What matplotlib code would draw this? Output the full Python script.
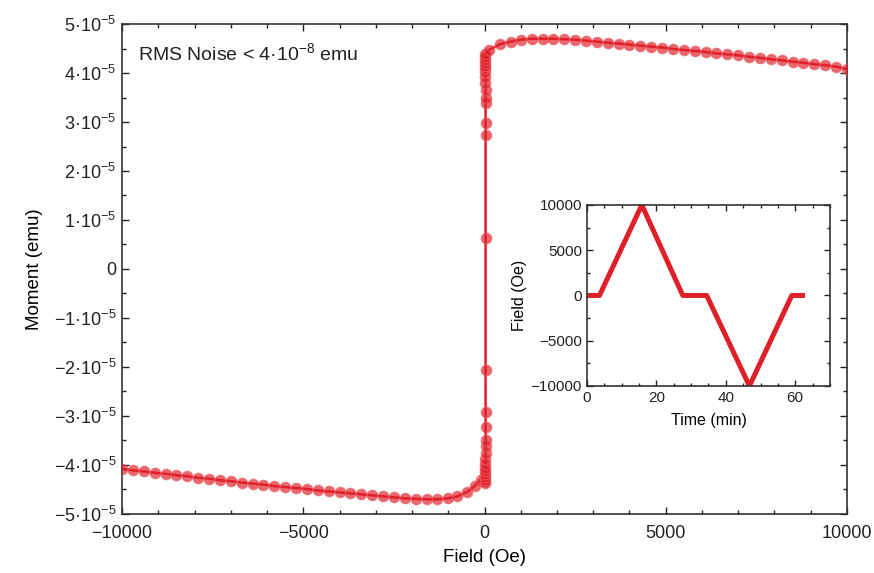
import matplotlib
matplotlib.use("Agg")
import matplotlib.pyplot as plt
from matplotlib.ticker import MultipleLocator, FixedLocator, FixedFormatter

plt.rcParams['font.family'] = ['Liberation Sans', 'DejaVu Sans']
plt.rcParams['mathtext.fontset'] = 'custom'
plt.rcParams['mathtext.rm'] = 'Liberation Sans'
plt.rcParams['mathtext.it'] = 'Liberation Sans:italic'

# ---- main data: field (Oe) and moment (1e-5 emu), in sweep order ----
field_neg = [-10000, -9700, -9400, -9100, -8800, -8500, -8200, -7900, -7600, -7300,
             -7000, -6700, -6400, -6100, -5800, -5500, -5200, -4900, -4600, -4300,
             -4000, -3700, -3400, -3100, -2800, -2500, -2200, -1900, -1600, -1300,
             -1000, -750, -480, -250, -110]
moment_neg = [-4.08, -4.11, -4.13, -4.16, -4.18, -4.21, -4.23, -4.26, -4.28, -4.31,
              -4.33, -4.36, -4.38, -4.40, -4.43, -4.45, -4.47, -4.49, -4.52, -4.54,
              -4.56, -4.58, -4.60, -4.62, -4.64, -4.66, -4.68, -4.69, -4.70, -4.70,
              -4.68, -4.64, -4.55, -4.42, -4.30]

field_sw = [12, 15, 18, 20, 22, 24, 25, 26, 27, 28, 29, 30,
            30, 30, 30, 30, 30, 30,
            30, 29, 28, 27, 26, 25, 24, 22, 20, 18, 16, 14]
moment_sw = [-4.37, -4.34, -4.30, -4.25, -4.19, -4.13, -4.06, -3.98, -3.88, -3.75, -3.62, -3.49,
             -3.22, -2.91, -2.06, 0.63, 2.73, 2.98,
             3.39, 3.50, 3.65, 3.80, 3.92, 4.02, 4.10, 4.15, 4.20, 4.26, 4.32, 4.38]

field_pos = [120, 440, 720, 1000, 1300, 1600, 1900, 2200, 2500, 2800, 3100, 3400,
             3700, 4000, 4300, 4600, 4900, 5200, 5500, 5800, 6100, 6400, 6700,
             7000, 7300, 7600, 7900, 8200, 8500, 8800, 9100, 9400, 9700, 10000]
moment_pos = [4.47, 4.59, 4.64, 4.68, 4.70, 4.70, 4.70, 4.69, 4.68, 4.66, 4.64, 4.62,
              4.60, 4.58, 4.56, 4.54, 4.52, 4.49, 4.47, 4.45, 4.43, 4.40, 4.38,
              4.36, 4.33, 4.31, 4.28, 4.26, 4.23, 4.21, 4.18, 4.16, 4.13, 4.08]

# ---- inset data: time (min) vs field (Oe), vertices of the sweep ----
inset_time = [0, 3.6, 15.8, 27.6, 34.5, 46.8, 59.0, 62.8]
inset_field = [0, 0, 10000, 0, 0, -10000, 0, 0]

y_ticks = [-5, -4, -3, -2, -1, 0, 1, 2, 3, 4, 5]
y_tick_labels = ['\u22125\u00b710$^{-5}$', '\u22124\u00b710$^{-5}$', '\u22123\u00b710$^{-5}$',
                 '\u22122\u00b710$^{-5}$', '\u22121\u00b710$^{-5}$', '0',
                 '1\u00b710$^{-5}$', '2\u00b710$^{-5}$', '3\u00b710$^{-5}$',
                 '4\u00b710$^{-5}$', '5\u00b710$^{-5}$']

H = field_neg + field_sw + field_pos
M = moment_neg + moment_sw + moment_pos

red = '#e01f29'
fig = plt.figure(figsize=(8.74, 5.73), dpi=100)
ax = fig.add_axes([0.1396, 0.1030, 0.8295, 0.8551])
ax.plot(H, M, '-', color=red, lw=1.8, zorder=2)
ax.plot(H, M, 'o', ms=7.6, mfc=red, mec='#ec5a60', alpha=0.68, mew=0.8, zorder=3)
ax.set_xlim(-10000, 10000)
ax.set_ylim(-5, 5)
ax.xaxis.set_major_locator(MultipleLocator(5000))
ax.xaxis.set_minor_locator(MultipleLocator(1000))
ax.yaxis.set_major_locator(FixedLocator(y_ticks))
ax.yaxis.set_major_formatter(FixedFormatter(y_tick_labels))
ax.yaxis.set_minor_locator(MultipleLocator(0.5))
ax.xaxis.set_major_formatter(plt.FuncFormatter(lambda v, p: f'{int(v)}'.replace('-', '\u2212')))
ax.tick_params(which='both', direction='in', top=True, right=True, labelsize=13, colors='#222222')
ax.tick_params(which='major', length=5, width=1)
ax.tick_params(which='minor', length=3, width=1)
ax.tick_params(axis='x', which='major', pad=8)
ax.tick_params(axis='y', which='major', pad=4)
for s in ax.spines.values():
    s.set_linewidth(1.2)
    s.set_color('#333333')
ax.set_xlabel('Field (Oe)', fontsize=13.5, labelpad=5)
ax.set_ylabel('Moment (emu)', fontsize=13.5, labelpad=8)
ax.text(-9550, 4.41, 'RMS Noise < 4\u00b710$^{-8}$ emu', fontsize=14, ha='left', va='center',
        color='#222222')

ins = fig.add_axes([0.6716, 0.3264, 0.278, 0.3159])
ins.plot(inset_time, inset_field, '-', color='#e02028', lw=3.6, solid_capstyle='butt')
ins.set_xlim(0, 70)
ins.set_ylim(-10000, 10000)
ins.xaxis.set_major_locator(MultipleLocator(20))
ins.xaxis.set_minor_locator(MultipleLocator(5))
ins.yaxis.set_major_locator(MultipleLocator(5000))
ins.yaxis.set_minor_locator(MultipleLocator(2500))
ins.yaxis.set_major_formatter(plt.FuncFormatter(lambda v, p: f'{int(v)}'.replace('-', '\u2212')))
ins.tick_params(which='both', direction='in', top=True, right=True, labelsize=11, colors='#222222')
ins.tick_params(which='major', length=4, width=1)
ins.tick_params(which='minor', length=2.5, width=1)
for s in ins.spines.values():
    s.set_linewidth(1.2)
    s.set_color('#333333')
ins.set_xlabel('Time (min)', fontsize=11.5, labelpad=6)
ins.set_ylabel('Field (Oe)', fontsize=11.5, labelpad=3)

fig.savefig('out.png', dpi=100)
